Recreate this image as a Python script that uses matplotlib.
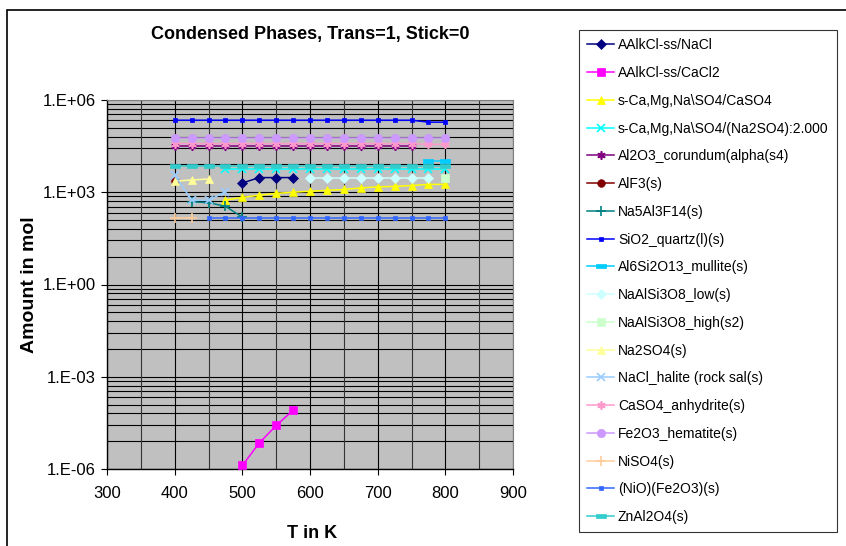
import numpy as np
import matplotlib
matplotlib.use("Agg")
import matplotlib.pyplot as plt
from matplotlib.patches import Rectangle

plt.rcParams['font.family'] = ['Liberation Sans', 'DejaVu Sans']

n = np.nan

# temperature steps (K)
temps = [400, 425, 450, 475, 500, 525, 550, 575, 600, 625, 650, 675, 700, 725, 750, 775, 800]

# amounts in mol for each condensed phase, nan = phase absent
alkcl_nacl = [n, n, n, n, 2.0e3, 3.0e3, 3.0e3, 3.0e3, n, n, n, n, n, n, n, n, n]
alkcl_cacl2 = [n, n, n, n, 1.3e-6, 7.0e-6, 2.6e-5, 8.1e-5, n, n, n, n, n, n, n, n, n]
sulf_caso4 = [n, n, n, 560, 680, 800, 920, 1000, 1080, 1150, 1230, 1380, 1500, 1550, 1650, 1800, 1800]
sulf_na2so4 = [n, n, n, 5.8e3, 5.8e3, 5.8e3, 5.8e3, 5.8e3, 5.8e3, 5.8e3, 5.8e3, 5.8e3, 5.8e3, 5.8e3, 5.8e3, 5.8e3, 5.8e3]
corundum = [3.2e4, 3.2e4, 3.2e4, 3.2e4, 3.2e4, 3.2e4, 3.2e4, 3.2e4, 3.2e4, 3.2e4, 3.2e4, 3.2e4, 3.2e4, 3.2e4, 3.2e4, n, n]
alf3 = [2.3e3, n, n, n, n, n, n, n, n, n, n, n, n, n, n, n, n]
na5al3f14 = [n, 490, 460, 350, 155, n, n, n, n, n, n, n, n, n, n, n, n]
quartz = [2.2e5, 2.2e5, 2.2e5, 2.2e5, 2.2e5, 2.2e5, 2.2e5, 2.2e5, 2.2e5, 2.2e5, 2.2e5, 2.2e5, 2.2e5, 2.2e5, 2.2e5, 1.9e5, 1.9e5]
mullite = [n, n, n, n, n, n, n, n, n, n, n, n, n, n, n, 1.07e4, 1.07e4]
albite_low = [n, n, n, n, n, n, n, n, 2.8e3, 2.8e3, 2.8e3, 2.8e3, 2.8e3, 2.8e3, 2.8e3, 2.8e3, n]
albite_high = [n, n, n, n, n, n, n, n, n, n, n, n, n, n, n, n, 2.8e3]
na2so4 = [2.3e3, 2.5e3, 2.7e3, n, n, n, n, n, n, n, n, n, n, n, n, n, n]
halite = [3.6e3, 560, 540, 1050, n, n, n, n, n, n, n, n, n, n, n, n, n]
anhydrite = [3.8e4, 3.8e4, 3.8e4, 3.8e4, 3.8e4, 3.8e4, 3.8e4, 3.8e4, 3.8e4, 3.8e4, 3.8e4, 3.8e4, 3.8e4, 3.8e4, 3.8e4, 3.6e4, 3.6e4]
hematite = [5.6e4, 5.6e4, 5.6e4, 5.6e4, 5.6e4, 5.6e4, 5.6e4, 5.6e4, 5.6e4, 5.6e4, 5.6e4, 5.6e4, 5.6e4, 5.6e4, 5.6e4, 5.6e4, 5.6e4]
niso4 = [145, 145, n, n, n, n, n, n, n, n, n, n, n, n, n, n, n]
nio_fe2o3 = [n, n, 145, 145, 145, 145, 145, 145, 145, 145, 145, 145, 145, 145, 145, 145, 145]
znal2o4 = [6.9e3, 6.9e3, 6.9e3, 6.9e3, 6.9e3, 6.9e3, 6.9e3, 6.9e3, 6.9e3, 6.9e3, 6.9e3, 6.9e3, 6.9e3, 6.9e3, 6.9e3, 6.9e3, 6.9e3]

labels = ["AAlkCl-ss/NaCl", "AAlkCl-ss/CaCl2", "s-Ca,Mg,Na\\SO4/CaSO4",
          "s-Ca,Mg,Na\\SO4/(Na2SO4):2.000", "Al2O3_corundum(alpha(s4)", "AlF3(s)",
          "Na5Al3F14(s)", "SiO2_quartz(l)(s)", "Al6Si2O13_mullite(s)", "NaAlSi3O8_low(s)",
          "NaAlSi3O8_high(s2)", "Na2SO4(s)", "NaCl_halite (rock sal(s)", "CaSO4_anhydrite(s)",
          "Fe2O3_hematite(s)", "NiSO4(s)", "(NiO)(Fe2O3)(s)", "ZnAl2O4(s)"]
series = [alkcl_nacl, alkcl_cacl2, sulf_caso4, sulf_na2so4, corundum, alf3,
          na5al3f14, quartz, mullite, albite_low, albite_high, na2so4, halite,
          anhydrite, hematite, niso4, nio_fe2o3, znal2o4]

x_ticks = [300, 400, 500, 600, 700, 800, 900]
y_ticks = [1e-6, 1e-3, 1e0, 1e3, 1e6]
y_tick_labels = ["1.E-06", "1.E-03", "1.E+00", "1.E+03", "1.E+06"]

# excel style colours and markers
colors = ['#000080', '#FF00FF', '#FFFF00', '#00FFFF', '#800080', '#800000',
          '#008080', '#0000FF', '#00CCFF', '#CCFFFF', '#CCFFCC', '#FFFF99',
          '#99CCFF', '#FF99CC', '#CC99FF', '#FFCC99', '#3366FF', '#33CCCC']
bar = [(-1, -0.4), (1, -0.4), (1, 0.4), (-1, 0.4), (-1, -0.4)]
markers = ['D', 's', '^', 'x', (6, 2, 0), 'o', '+', 's', bar, 'D', 's', '^',
           'x', (6, 2, 0), 'o', '+', 's', bar]
sizes = [5, 5.5, 6, 6, 6, 5.5, 7, 3.5, 7, 5, 6, 6, 6, 6, 6, 7, 3.5, 7]

fig = plt.figure(figsize=(8.46, 5.46), dpi=100)
ax = fig.add_axes([107/846, 77/546, 406/846, 369/546])
ax.set_facecolor('#C0C0C0')

for vals, lab, c, m, s in zip(series, labels, colors, markers, sizes):
    ax.plot(temps, vals, color=c, marker=m, markersize=s, lw=1.1,
            markeredgewidth=1.2 if m in ('x', '+') or isinstance(m, tuple) else 0.5,
            markeredgecolor=c, label=lab, zorder=3)

ax.set_yscale('log')
ax.set_xlim(300, 900)
ax.set_ylim(1e-6, 1e6)

# gridlines: decades every 1000, minors at m^3 * 1000^k
minor = [m**3 * 1000.0**k for k in range(-2, 2) for m in range(2, 10)]
for v in minor + y_ticks:
    ax.axhline(v, color='black', lw=0.8, zorder=1)
for xv in range(300, 901, 50):
    ax.axvline(xv, color='black' if xv % 100 == 0 else '#333333', lw=0.8, zorder=1)

ax.set_xticks(x_ticks)
ax.set_yticks(y_ticks)
ax.set_yticklabels(y_tick_labels)
ax.yaxis.set_minor_locator(matplotlib.ticker.NullLocator())
ax.tick_params(axis='both', direction='out', length=4, width=0.8, labelsize=12, pad=4)
ax.tick_params(axis='x', pad=8)
for sp in ('top', 'right'):
    ax.spines[sp].set_color('#808080')
ax.spines['left'].set_linewidth(1)
ax.spines['bottom'].set_linewidth(1)

fig.text(310/846, 1 - 35/546, "Condensed Phases, Trans=1, Stick=0",
         ha='center', va='center', fontsize=13, fontweight='bold')
fig.text(312/846, 1 - 533/546, "T in K", ha='center', va='center',
         fontsize=13, fontweight='bold')
fig.text(30/846, 1 - 285/546, "Amount in mol", ha='center', va='center',
         rotation=90, fontsize=14, fontweight='bold')

leg = fig.legend(loc='upper left', bbox_to_anchor=(579/846, 1 - 30/546),
                 fontsize=10, frameon=True, fancybox=False, edgecolor='black',
                 labelspacing=0.99, handlelength=1.9, handletextpad=0.3,
                 borderpad=0.6, borderaxespad=0)
leg.get_frame().set_linewidth(0.8)

# outer chart frame
fig.patches.append(Rectangle((7/846, -0.1), 1.2, 1.1 - 10/546, transform=fig.transFigure,
                             fill=False, edgecolor='black', lw=1.2))

fig.savefig("out.png", dpi=100)
